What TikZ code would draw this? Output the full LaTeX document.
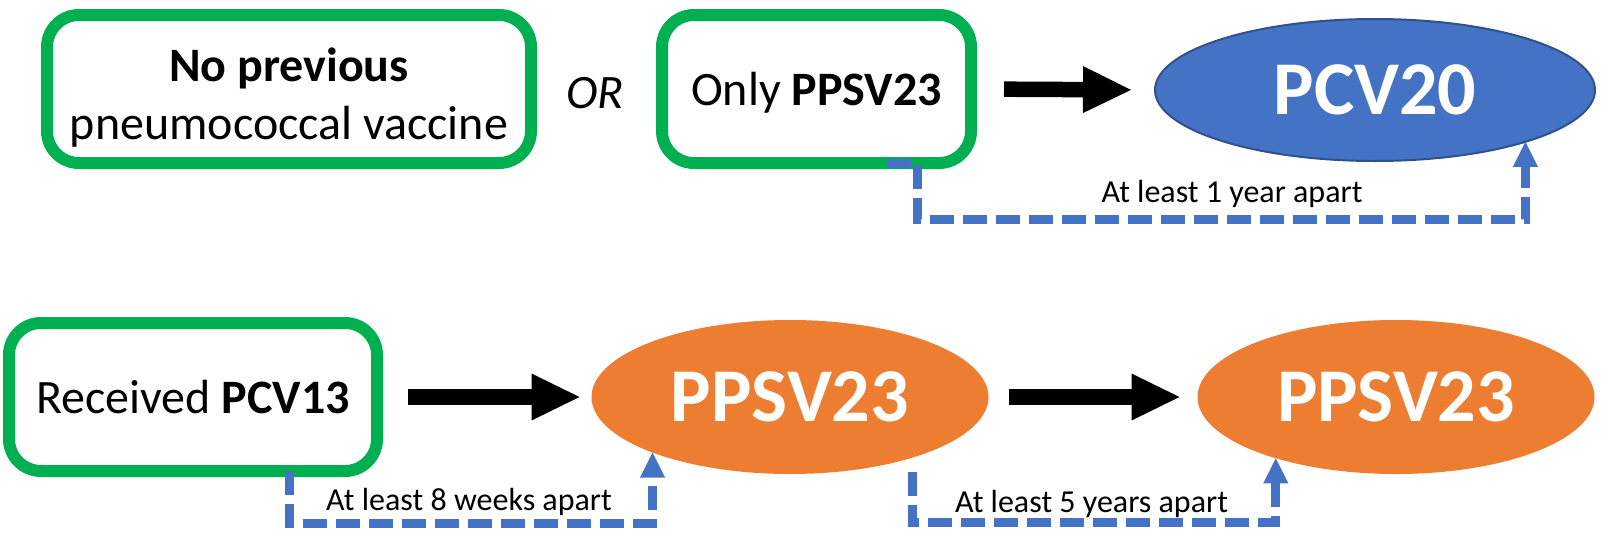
\documentclass[tikz,border=0pt]{standalone}
\usepackage{fontspec}
\setmainfont{Carlito}
\usetikzlibrary{arrows.meta,shapes.geometric}
\definecolor{boxgreen}{HTML}{00B050}
\definecolor{vblue}{HTML}{4472C4}
\definecolor{vblueline}{HTML}{2F528F}
\definecolor{vorange}{HTML}{ED7D31}

\begin{document}
\begin{tikzpicture}[
  x=0.5pt, y=-0.5pt,
  box/.style={draw=boxgreen, line width=6pt, rounded corners=16pt, minimum height=74pt,
    inner sep=0pt, outer sep=0pt, text height=18pt, text depth=2pt,
    font=\fontsize{24}{29}\selectfont},
  oval/.style={ellipse, inner sep=0pt, outer sep=0pt, text=white,
    font=\fontsize{38}{42}\selectfont\bfseries},
  arr/.style={line width=7.75pt, -{Triangle[length=24pt, width=23.5pt, line width=0pt]}},
  intv/.style={draw=vblue, line width=4.5pt, dash pattern=on 12pt off 4.5pt,
    -{Triangle[length=12.5pt, width=12.5pt, line width=0pt]}},
  lbl/.style={anchor=base, inner sep=0pt, font=\fontsize{16}{19}\selectfont},
]
\useasboundingbox (0,0) rectangle (1602,536);
%\draw[gray, help lines, step=50] (0,0) grid (1602,536);

% top row
\node[box, minimum width=242pt, text height=52pt] (noprev) at (289,89)
  {\begin{tabular}[b]{@{}c@{}}\textbf{No previous}\\pneumococcal vaccine\end{tabular}};
\node[font=\fontsize{24}{29}\selectfont\itshape] (or) at (595,93) {OR};
\node[box, minimum width=154.5pt] (onlyppsv) at (816.5,89) {Only \textbf{PPSV23}};
\node[oval, fill=vblue, draw=vblueline, line width=1pt, minimum width=220pt, minimum height=71pt] (pcv20) at (1375,90) {PCV20};

\draw[arr, shorten <=16.5pt, shorten >=12pt] (onlyppsv.east) -- (pcv20.west);
\draw[intv] ([xshift=35pt]onlyppsv.south) -- ++(31,0) -- ++(0,56) -| (pcv20.-19);
\node[lbl] (gap1) at (1232,202) {At least 1 year apart};

% bottom row
\node[box, minimum width=184pt] (pcv13) at (193,397) {Received \textbf{PCV13}};
\node[oval, fill=vorange, minimum width=198.5pt, minimum height=77pt] (ppsvA) at (790,397) {PPSV23};
\node[oval, fill=vorange, minimum width=198.5pt, minimum height=77pt] (ppsvB) at (1396,397) {PPSV23};

\draw[arr, shorten <=15.5pt, shorten >=6pt] (pcv13.east) -- (ppsvA.west);
\draw[arr, shorten <=10pt, shorten >=9pt] (ppsvA.east) -- (ppsvB.west);
\draw[intv] ([xshift=48pt]pcv13.south) -- ++(0,52) -| (ppsvA.202);
\draw[intv] ([xshift=61pt,yshift=1pt]ppsvA.south) -- ++(0,50) -| (ppsvB.207);
\node[lbl] (gap2) at (469,510) {At least 8 weeks apart};
\node[lbl] (gap3) at (1091.5,512) {At least 5 years apart};
\end{tikzpicture}
\end{document}
